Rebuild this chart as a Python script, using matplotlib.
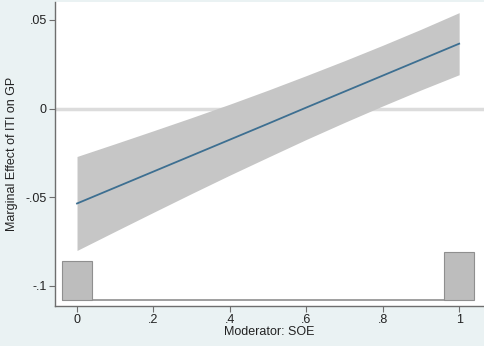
"""
Marginal effect of ITI on GP across the SOE moderator (Stata marginsplot look).
"""

import matplotlib.pyplot as plt

# %%
# Data
# -----------------------------------

soe = [0.0, 0.1, 0.2, 0.3, 0.4, 0.5, 0.6, 0.7, 0.8, 0.9, 1.0]
effect = [-0.0535, -0.0445, -0.0355, -0.0265, -0.0175, -0.0085,
          0.0006, 0.0096, 0.0186, 0.0276, 0.0366]
ci_upper = [-0.0270, -0.0198, -0.0125, -0.0051, 0.0025, 0.0104,
            0.0186, 0.0270, 0.0357, 0.0447, 0.0541]
ci_lower = [-0.0800, -0.0692, -0.0585, -0.0479, -0.0375, -0.0274,
            -0.0174, -0.0078, 0.0015, 0.0105, 0.0191]

# histogram of the moderator, drawn on the effect axis
hist_x = [0.0, 1.0]
hist_top = [-0.0862, -0.0806]
hist_base = -0.1077

xticks = [0, 0.2, 0.4, 0.6, 0.8, 1.0]
xticklabels = ["0", ".2", ".4", ".6", ".8", "1"]
yticks = [-0.1, -0.05, 0, 0.05]
yticklabels = ["-.1", "-.05", "0", ".05"]

# %%
# Figure
# ------

plt.rcParams["font.family"] = ["Liberation Sans", "DejaVu Sans"]

fig = plt.figure(figsize=(4.84, 3.46), dpi=100, facecolor="#eaf2f3")
ax = fig.add_axes([55 / 484, 1 - 306 / 346, 1 - 55 / 484, 304 / 346])
ax.set_facecolor("white")

ax.axhline(0, color="#dcdcdc", lw=2.5, zorder=1)

ax.fill_between(soe, ci_lower, ci_upper, color="#c6c6c6", lw=0, zorder=2)
ax.plot(soe, effect, color="#3d6f91", lw=1.3, zorder=3)

# histogram
ax.hlines(hist_base, -0.04, 1.04, color="#8f8f8f", lw=1.2, zorder=2)
heights = [t - hist_base for t in hist_top]
ax.bar(hist_x, heights, width=0.08, bottom=hist_base, color="#bdbdbd",
       edgecolor="#8f8f8f", lw=0.8, zorder=2)

ax.set_xlim(-0.0576, 1.065)
ax.set_ylim(-0.1113, 0.0601)

ax.set_xticks(xticks)
ax.set_xticklabels(xticklabels)
ax.set_yticks(yticks)
ax.set_yticklabels(yticklabels)

for side in ["top", "right"]:
    ax.spines[side].set_visible(False)
for side in ["left", "bottom"]:
    ax.spines[side].set_color("#6e6e6e")
    ax.spines[side].set_linewidth(1.0)

ax.tick_params(direction="out", length=4, width=0.8, color="#6e6e6e",
               labelsize=9, labelcolor="#222222", pad=2)

ax.set_xlabel("Moderator: SOE", fontsize=9, color="#222222", labelpad=0)
ax.set_ylabel("Marginal Effect of ITI on GP", fontsize=9, color="#222222",
              labelpad=5)

fig.savefig("out.png", dpi=100, facecolor=fig.get_facecolor())
